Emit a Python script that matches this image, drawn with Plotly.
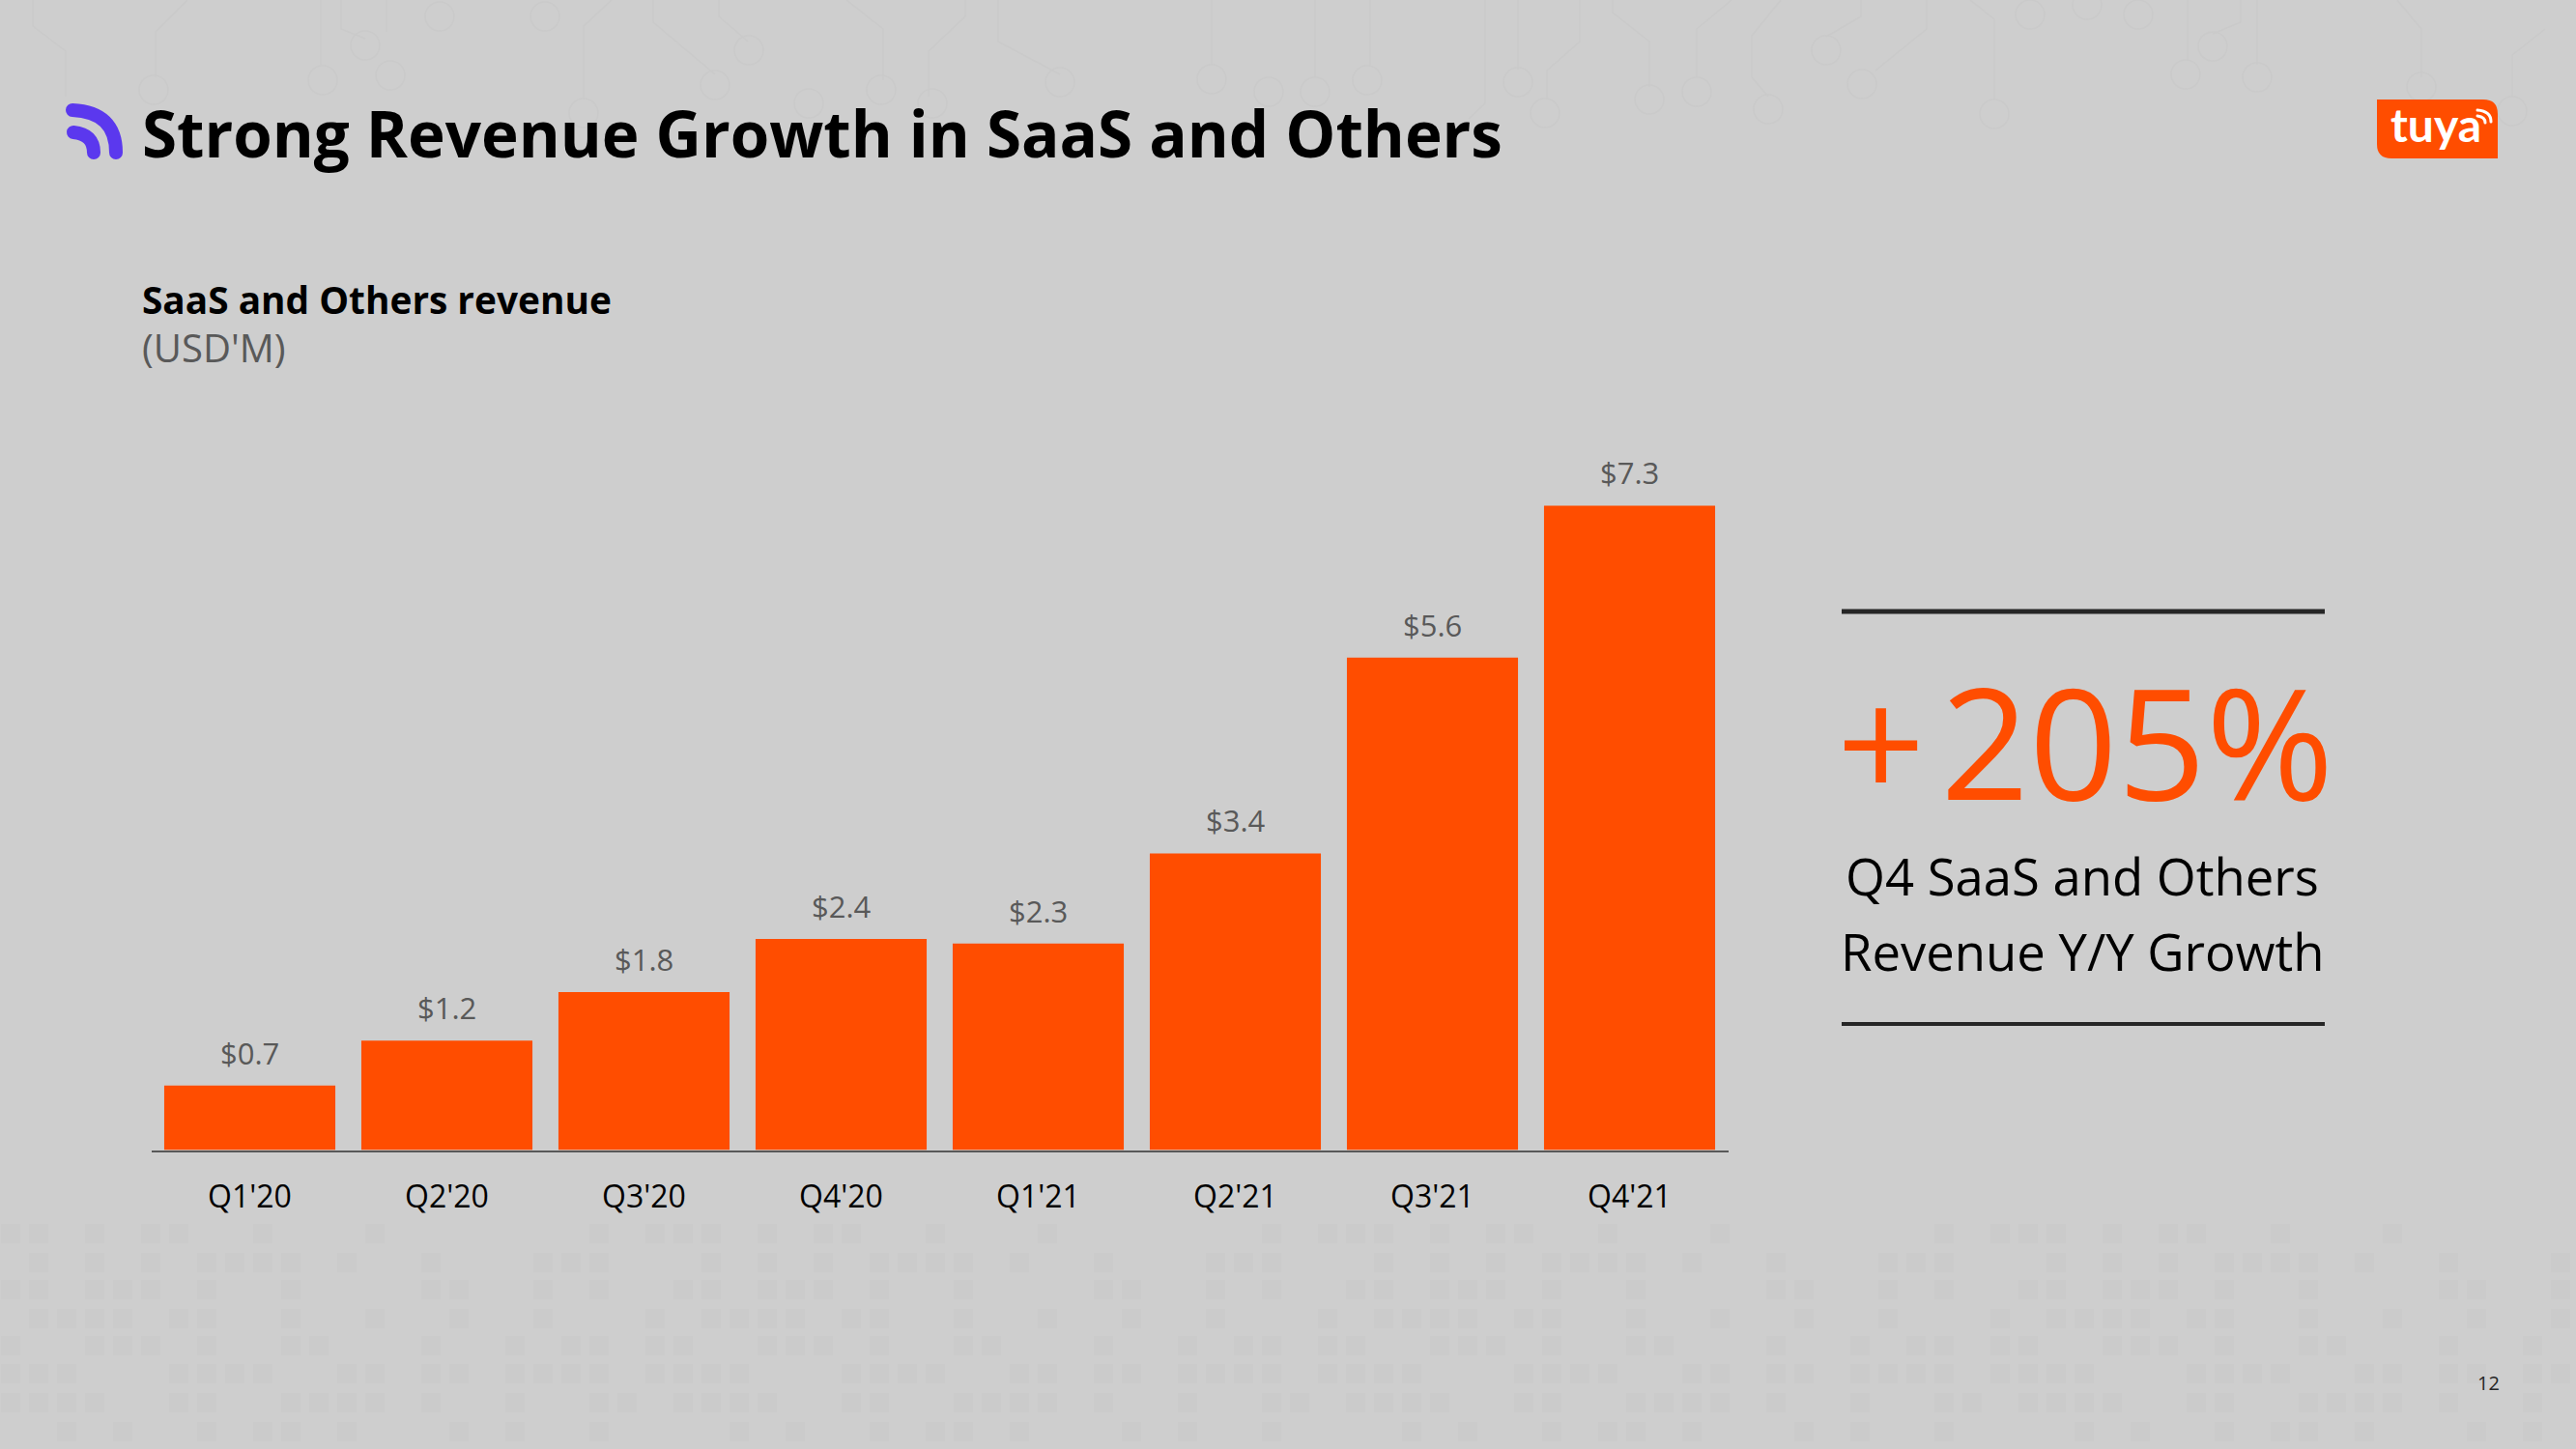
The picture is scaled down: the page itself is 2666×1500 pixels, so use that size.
import base64
import plotly.graph_objects as go

W, H = 2666, 1500
BG = "#cecece"
ORANGE = "#ff4d00"
FONT = "Open Sans"

quarters = ["Q1'20", "Q2'20", "Q3'20", "Q4'20", "Q1'21", "Q2'21", "Q3'21", "Q4'21"]
revenue = [0.73, 1.24, 1.79, 2.39, 2.34, 3.36, 5.58, 7.3]

def px(x): return x / W
def py(y): return 1 - y / H

base_y, top_y = 1190.5, 459.5

fig = go.Figure(go.Bar(
    x=quarters, y=revenue, marker=dict(color=ORANGE, line_width=0), hoverinfo="skip",
))

# value labels sit a little further off the bars than textposition="outside" allows
for q, v in zip(quarters, revenue):
    fig.add_annotation(x=q, y=v, text=f"${v:.1f}", showarrow=False, yanchor="bottom", yshift=11,
                       font=dict(family=FONT, size=31, color="#595959"))

def txt(x, y, s, size, color, anchor="left", bold=False, family=FONT):
    fig.add_annotation(xref="paper", yref="paper", x=px(x), y=py(y), text=f"<b>{s}</b>" if bold else s,
                       showarrow=False, xanchor=anchor, yanchor="middle",
                       font=dict(family=family, size=size, color=color))

def rule(y, width):
    fig.add_shape(type="line", xref="paper", yref="paper", x0=px(1906), x1=px(2406), y0=py(y), y1=py(y),
                  line=dict(color="#262626", width=width))

def svg_image(svg, x, y, w, h, layer="above"):
    uri = "data:image/svg+xml;base64," + base64.b64encode(svg.encode()).decode()
    fig.add_layout_image(source=uri, xref="paper", yref="paper", x=px(x), y=py(y), sizex=w / W, sizey=h / H,
                         xanchor="left", yanchor="top", sizing="stretch", layer=layer)

# purple signal icon
svg_image('<svg xmlns="http://www.w3.org/2000/svg" width="75" height="70" viewBox="60 100 75 70">'
          '<g fill="none" stroke="#5b38ee" stroke-width="14" stroke-linecap="round">'
          '<path d="M75 114 Q120 116 120 158"/><path d="M76 137 Q97 139 97 158"/></g></svg>',
          60, 100, 75, 70)

# tuya logo plate and small signal arcs
svg_image('<svg xmlns="http://www.w3.org/2000/svg" width="125" height="61" viewBox="2460 103 125 61">'
          f'<path d="M2460 103 H2570 Q2585 103 2585 118 V164 H2475 Q2460 164 2460 149 Z" fill="{ORANGE}"/>'
          '<g fill="none" stroke="#ffffff" stroke-width="3" stroke-linecap="round">'
          '<path d="M2564 114 Q2578 115 2578 126"/><path d="M2564 120 Q2572 121 2572 127"/></g></svg>',
          2460, 103, 125, 61)

# faint backdrop: circuit traces and pads along the top
trace = "#cacaca"
pads = [(159, 93), (334, 83), (404, 78), (378, 47), (455, 17), (564, 17), (775, 52), (740, 88), (837, 107),
        (912, 93), (965, 107), (1097, 85), (1254, 82), (1313, 95), (604, 117), (1361, 95), (1415, 83),
        (1571, 85), (1599, 117), (1707, 103), (1756, 95), (1830, 113), (1890, 52), (1927, 87), (2064, 118),
        (2101, 15), (2160, 5), (2213, 15), (2290, 48), (2262, 77), (2336, 80), (2506, 90), (2600, 115)]
traces = ["M34 0 V27 L68 53 V100", "M194 0 L161 33 V80", "M332 0 V67", "M353 0 V30 L378 40", "M400 0 V33",
          "M633 0 L604 27 V103", "M676 0 V23 L740 77", "M744 0 V17 L774 43", "M876 0 L914 30 V83",
          "M999 0 V17 L961 53 V100", "M1033 0 V43 L1097 77", "M1254 0 V67", "M1418 0 V68", "M1361 0 V80",
          "M1537 0 V107 L1520 123", "M1571 0 V72", "M1635 0 V43 L1601 73 V103", "M1669 0 V13 L1707 43 V90",
          "M1792 0 L1756 30 V80", "M1843 0 L1813 37 V80 L1830 100", "M1926 0 V17 L1890 38",
          "M1994 0 V30 L1941 73", "M2039 0 L2064 20 V103", "M2264 0 V63", "M2319 0 V23 L2290 35", "M2336 0 V67",
          "M2481 0 L2506 30 V80", "M2634 30 L2600 57 V100"]
# and a tile of faint squares along the bottom: row y -> occupied columns
square_rows = {1277: [0, 1, 3, 5, 6, 9, 13, 21, 23],
               1307: [1, 3, 5, 7, 8, 9, 10, 12, 15, 19, 20, 21],
               1335: [0, 1, 3, 4, 5, 7, 10, 15, 16, 19, 21],
               1365: [1, 2, 3, 4, 6, 7, 10, 13, 16, 19, 23],
               1393: [0, 3, 4, 5, 7, 10, 11, 15, 18, 20, 21, 23],
               1422: [0, 1, 2, 6, 7, 8, 9, 12, 13, 15, 16, 18, 19, 20, 21, 23],
               1452: [0, 1, 2, 3, 6, 7, 10, 11, 12, 13, 15, 18, 21, 22],
               1482: [2, 4, 7, 9, 10, 12, 16, 18, 21]}
squares = "".join(
    f'<rect x="{11 + 29 * c - 10 + tile * 696}" y="{y - 10}" width="20" height="20"/>'
    for y, cols in square_rows.items() for c in cols for tile in range(4)
)
bg_svg = (f'<svg xmlns="http://www.w3.org/2000/svg" width="{W}" height="{H}" viewBox="0 0 {W} {H}">'
          f'<g fill="none" stroke="{trace}" stroke-width="1.5">'
          + "".join(f'<path d="{d}"/>' for d in traces)
          + "".join(f'<circle cx="{x}" cy="{y}" r="15"/>' for x, y in pads)
          + f'</g><g fill="#cbcbcb">{squares}</g></svg>')
svg_image(bg_svg, 0, 0, W, H, layer="below")

txt(145, 138, "Strong Revenue Growth in SaaS and Others", 65.5, "#000000", bold=True)
txt(145, 310, "SaaS and Others revenue", 38.8, "#000000", bold=True)
txt(145, 359, "(USD'M)", 40, "#595959")
txt(2158, 766, "+\u200a205%", 160, ORANGE, "center")
txt(2155, 906, "Q4 SaaS and Others", 52.6, "#000000", "center")
txt(2155, 984, "Revenue Y/Y Growth", 52.6, "#000000", "center")
txt(2521, 129, "<b>tuya</b>", 48, "#ffffff", "center", family="Lato")
txt(2575, 1431, "12", 20, "#262626", "center")
rule(633, 5)
rule(1060, 4)

fig.update_layout(
    width=W, height=H, margin=dict(l=0, r=0, t=0, b=0), showlegend=False,
    paper_bgcolor=BG, plot_bgcolor="rgba(0,0,0,0)", bargap=0.132,
    xaxis=dict(domain=[px(156.5), px(1788.5)], showline=True, linecolor="#595959", linewidth=2,
               ticks="", showgrid=False, zeroline=False, ticklabelstandoff=19,
               tickfont=dict(family=FONT, size=32, color="#000000")),
    yaxis=dict(domain=[py(base_y), py(top_y)], range=[0, 8], visible=False),
)
fig.write_html("out.html", config={"displayModeBar": False}, post_script="document.body.style.margin='0';")
